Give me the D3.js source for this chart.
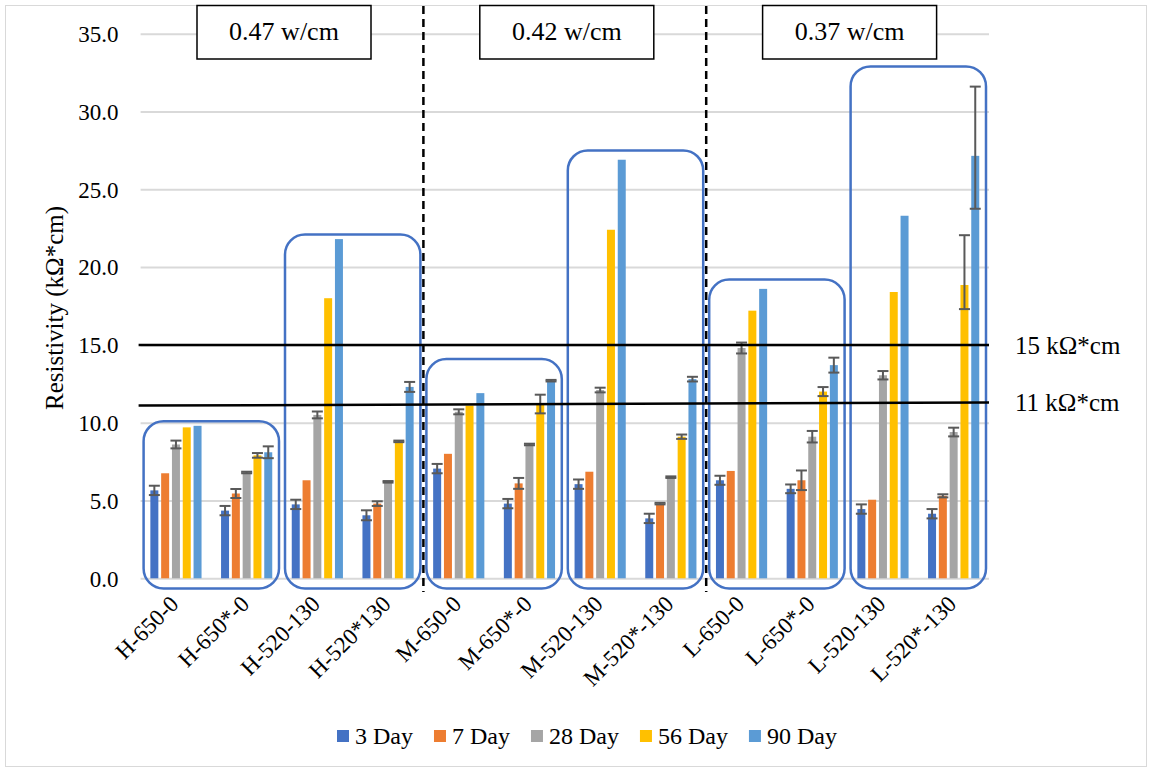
<!DOCTYPE html>
<html>
<head>
<meta charset="utf-8">
<script src="https://cdn.jsdelivr.net/npm/d3@7/dist/d3.min.js"></script>
<style>
  body { margin: 0; background: #fff; }
  svg text { font-family: "Liberation Serif", "Times New Roman", serif; fill: #000; }
</style>
</head>
<body>
<svg id="chart" width="1153" height="772"></svg>
<script>
// mixes, in plot order
const categories = ["H-650-0", "H-650*-0", "H-520-130", "H-520*130",
                    "M-650-0", "M-650*-0", "M-520-130", "M-520*-130",
                    "L-650-0", "L-650*-0", "L-520-130", "L-520*-130"];
const seriesNames = ["3 Day", "7 Day", "28 Day", "56 Day", "90 Day"];

// resistivity (kOhm*cm)
const day3  = [5.65, 4.35, 4.75, 4.05, 7.05, 4.8, 6.05, 3.85, 6.3, 5.75, 4.45, 4.15];
const day7  = [6.75, 5.45, 6.3, 4.8, 8.0, 6.1, 6.85, 4.8, 6.9, 6.3, 5.05, 5.3];
const day28 = [8.6, 6.8, 10.5, 6.2, 10.7, 8.6, 12.1, 6.5, 14.8, 9.1, 13.05, 9.4];
const day56 = [9.7, 7.9, 18.0, 8.8, 11.1, 11.2, 22.4, 9.1, 17.2, 12.0, 18.4, 18.85];
const day90 = [9.8, 8.1, 21.8, 12.3, 11.9, 12.7, 26.9, 12.8, 18.6, 13.7, 23.3, 27.15];

// error bars, number = +/- , [minus, plus] where they are uneven
const err3  = [0.3, 0.3, 0.3, 0.32, 0.3, 0.3, 0.3, 0.3, 0.29, 0.28, 0.3, 0.3];
const err7  = [0, 0.29, 0, 0.15, 0, 0.35, 0, 0.05, 0, 0.63, 0, 0.1];
const err28 = [0.25, 0.05, 0.22, 0.05, 0.16, 0.05, 0.15, 0.05, 0.35, 0.37, 0.27, 0.28];
const err56 = [0, 0.15, 0, 0.05, 0, 0.6, 0, 0.14, 0, 0.29, 0, [1.55, 3.2]];
const err90 = [0, 0.38, 0, 0.32, 0, 0.05, 0, 0.15, 0, 0.48, 0, [3.4, 4.45]];

const yTicks = [0, 5, 10, 15, 20, 25, 30, 35];
const sectionLabels = ["0.47 w/cm", "0.42 w/cm", "0.37 w/cm"];
const boxTops = [10.1, 22.1, 14.1, 27.5, 19.2, 32.9];   // hand drawn outlines, one per pair
const limitLabels = ["15 k\u03A9*cm", "11 k\u03A9*cm"];
const limitStart = [15, 11.1];
const limitEnd = [15, 11.3];

const colors = ["#4472C4", "#ED7D31", "#A5A5A5", "#FFC000", "#5B9BD5"];
const values = [day3, day7, day28, day56, day90];
const errors = [err3, err7, err28, err56, err90];

const serif = '"Liberation Serif", "Times New Roman", serif';
const svg = d3.select("#chart");
const plotLeft = 140.6, plotRight = 989, plotTop = 33.7, plotBottom = 578.3;

// chart frame
svg.append("rect").attr("x", 5.5).attr("y", 5.5).attr("width", 1141).attr("height", 761)
  .attr("fill", "none").attr("stroke", "#d9d9d9").attr("stroke-width", 1);

const x = d3.scaleBand().domain(categories).range([plotLeft, plotRight]).padding(0);
const xs = d3.scaleBand().domain(seriesNames).range([-27, 27]).paddingInner(0.26).paddingOuter(0.13);
const y = d3.scaleLinear().domain([0, 35]).range([plotBottom, plotTop]);

// grid + y labels
const yAxis = svg.append("g").attr("transform", `translate(${plotLeft},0)`)
  .call(d3.axisLeft(y).tickValues(yTicks).tickFormat(d3.format(".1f"))
    .tickSize(-(plotRight - plotLeft)).tickPadding(22));
yAxis.attr("font-family", null).attr("font-size", null);
yAxis.select(".domain").remove();
yAxis.selectAll(".tick line").attr("stroke", "#d9d9d9").attr("stroke-width", 2);
yAxis.selectAll(".tick text").style("font-family", serif)
  .style("font-size", "23px").attr("fill", "#000").attr("dy", "0.34em");

svg.append("text").attr("transform", "translate(63,308) rotate(-90)")
  .attr("text-anchor", "middle").style("font-size", "25px")
  .text("Resistivity (k\u03A9*cm)");

// bars
const groups = svg.append("g").selectAll("g").data(categories).join("g")
  .attr("transform", d => `translate(${x(d) + x.bandwidth() / 2},0)`);

seriesNames.forEach((s, si) => {
  groups.append("rect")
    .attr("x", xs(s))
    .attr("width", xs.bandwidth())
    .attr("y", (d, i) => y(values[si][i]))
    .attr("height", (d, i) => y(0) - y(values[si][i]))
    .attr("fill", colors[si]);
});

// error bars
seriesNames.forEach((s, si) => {
  groups.each(function (d, i) {
    const e = errors[si][i];
    if (!e) return;
    const lo = Array.isArray(e) ? e[0] : e;
    const hi = Array.isArray(e) ? e[1] : e;
    const v = values[si][i];
    const cx = xs(s) + xs.bandwidth() / 2;
    const g = d3.select(this).append("g").attr("stroke", "#595959").attr("stroke-width", 2);
    g.append("line").attr("x1", cx).attr("x2", cx).attr("y1", y(v - lo)).attr("y2", y(v + hi));
    [v - lo, v + hi].forEach(t => {
      g.append("line").attr("x1", cx - 5.5).attr("x2", cx + 5.5).attr("y1", y(t)).attr("y2", y(t));
    });
  });
});

// rounded outlines around each pair
boxTops.forEach((t, i) => {
  const x0 = x(categories[2 * i]) + 3;
  const x1 = x(categories[2 * i + 1]) + x.bandwidth() - 3;
  svg.append("rect").attr("x", x0).attr("y", y(t))
    .attr("width", x1 - x0).attr("height", y(-0.65) - y(t))
    .attr("rx", 20).attr("ry", 20)
    .attr("fill", "none").attr("stroke", "#4472C4").attr("stroke-width", 2.5);
});

// limit lines
limitLabels.forEach((lab, i) => {
  svg.append("line").attr("x1", plotLeft - 2).attr("x2", plotRight)
    .attr("y1", y(limitStart[i])).attr("y2", y(limitEnd[i]))
    .attr("stroke", "#000").attr("stroke-width", 2.5);
  svg.append("text").attr("x", 1015).attr("y", y(limitEnd[i]) + 9)
    .style("font-size", "25px").text(lab);
});

// section dividers
[4, 8].forEach(ci => {
  const xv = x(categories[ci]);
  svg.append("line").attr("x1", xv).attr("x2", xv).attr("y1", 6).attr("y2", 592)
    .attr("stroke", "#000").attr("stroke-width", 2.5).attr("stroke-dasharray", "8,5");
});

// section labels
sectionLabels.forEach((lab, i) => {
  const cx = x(categories[4 * i + 1]) + x.bandwidth() + 2;
  svg.append("rect").attr("x", cx - 87).attr("y", 5.5).attr("width", 174).attr("height", 53.5)
    .attr("fill", "#fff").attr("stroke", "#000").attr("stroke-width", 1.5);
  svg.append("text").attr("x", cx).attr("y", 40).attr("text-anchor", "middle")
    .style("font-size", "26px").text(lab);
});

// category labels
svg.append("g").selectAll("text").data(categories).join("text")
  .attr("transform", d => `translate(${x(d) + x.bandwidth() / 2 + 4},${plotBottom + 27}) rotate(-45)`)
  .attr("text-anchor", "end").style("font-size", "23px").text(d => d);

// legend
const legend = svg.append("g");
let lx = 337;
seriesNames.forEach((s, si) => {
  legend.append("rect").attr("x", lx).attr("y", 730).attr("width", 12).attr("height", 12).attr("fill", colors[si]);
  const t = legend.append("text").attr("x", lx + 18).attr("y", 744).style("font-size", "24px").text(s);
  lx += 18 + t.node().getComputedTextLength() + 21;
});
</script>
</body>
</html>
